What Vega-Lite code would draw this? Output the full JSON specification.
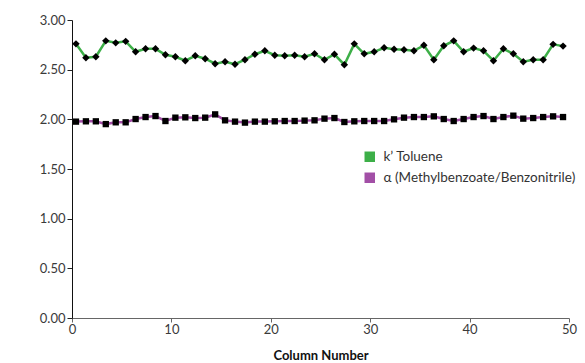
{
  "$schema": "https://vega.github.io/schema/vega-lite/v6.json",
  "width": 497,
  "height": 298,
  "autosize": "none",
  "padding": {"left": 72, "top": 20, "right": 16, "bottom": 45},
  "config": {
    "view": {"stroke": null},
    "font": "Lato",
    "axis": {"grid": false, "labelFont": "Lato", "labelFontSize": 13, "labelColor": "#3a3a3a", "tickColor": "#222", "domainColor": "#111", "labelFlush": false}
  },
  "data": {
    "values": [
      {"column": 0.4, "toluene": 2.76, "alpha": 1.977},
      {"column": 1.4, "toluene": 2.62, "alpha": 1.98},
      {"column": 2.4, "toluene": 2.63, "alpha": 1.98},
      {"column": 3.4, "toluene": 2.79, "alpha": 1.952},
      {"column": 4.4, "toluene": 2.77, "alpha": 1.97},
      {"column": 5.4, "toluene": 2.785, "alpha": 1.97},
      {"column": 6.4, "toluene": 2.68, "alpha": 2.003},
      {"column": 7.4, "toluene": 2.71, "alpha": 2.023},
      {"column": 8.4, "toluene": 2.71, "alpha": 2.033},
      {"column": 9.4, "toluene": 2.65, "alpha": 1.983},
      {"column": 10.4, "toluene": 2.63, "alpha": 2.017},
      {"column": 11.4, "toluene": 2.59, "alpha": 2.02},
      {"column": 12.4, "toluene": 2.64, "alpha": 2.013},
      {"column": 13.4, "toluene": 2.61, "alpha": 2.017},
      {"column": 14.4, "toluene": 2.56, "alpha": 2.05},
      {"column": 15.4, "toluene": 2.58, "alpha": 1.99},
      {"column": 16.4, "toluene": 2.555, "alpha": 1.977},
      {"column": 17.4, "toluene": 2.6, "alpha": 1.967},
      {"column": 18.4, "toluene": 2.655, "alpha": 1.977},
      {"column": 19.4, "toluene": 2.69, "alpha": 1.977},
      {"column": 20.4, "toluene": 2.645, "alpha": 1.98},
      {"column": 21.4, "toluene": 2.64, "alpha": 1.983},
      {"column": 22.4, "toluene": 2.645, "alpha": 1.983},
      {"column": 23.4, "toluene": 2.63, "alpha": 1.987},
      {"column": 24.4, "toluene": 2.66, "alpha": 1.99},
      {"column": 25.4, "toluene": 2.6, "alpha": 2.007},
      {"column": 26.4, "toluene": 2.655, "alpha": 2.013},
      {"column": 27.4, "toluene": 2.55, "alpha": 1.973},
      {"column": 28.4, "toluene": 2.76, "alpha": 1.98},
      {"column": 29.4, "toluene": 2.66, "alpha": 1.983},
      {"column": 30.4, "toluene": 2.68, "alpha": 1.983},
      {"column": 31.4, "toluene": 2.72, "alpha": 1.983},
      {"column": 32.4, "toluene": 2.705, "alpha": 2.0},
      {"column": 33.4, "toluene": 2.7, "alpha": 2.017},
      {"column": 34.4, "toluene": 2.69, "alpha": 2.023},
      {"column": 35.4, "toluene": 2.745, "alpha": 2.023},
      {"column": 36.4, "toluene": 2.6, "alpha": 2.03},
      {"column": 37.4, "toluene": 2.74, "alpha": 2.003},
      {"column": 38.4, "toluene": 2.79, "alpha": 1.983},
      {"column": 39.4, "toluene": 2.68, "alpha": 2.003},
      {"column": 40.4, "toluene": 2.717, "alpha": 2.023},
      {"column": 41.4, "toluene": 2.69, "alpha": 2.033},
      {"column": 42.4, "toluene": 2.59, "alpha": 2.003},
      {"column": 43.4, "toluene": 2.71, "alpha": 2.023},
      {"column": 44.4, "toluene": 2.66, "alpha": 2.037},
      {"column": 45.4, "toluene": 2.58, "alpha": 2.007},
      {"column": 46.4, "toluene": 2.6, "alpha": 2.013},
      {"column": 47.4, "toluene": 2.6, "alpha": 2.023},
      {"column": 48.4, "toluene": 2.755, "alpha": 2.03},
      {"column": 49.4, "toluene": 2.737, "alpha": 2.023}
    ]
  },
  "transform": [{"fold": ["toluene", "alpha"], "as": ["series", "value"]}],
  "encoding": {
    "x": {
      "field": "column", "type": "quantitative",
      "scale": {"domain": [0, 50], "nice": false},
      "axis": {"values": [0, 10, 20, 30, 40, 50], "tickSize": 4, "labelPadding": 1, "domainColor": "#666", "tickColor": "#666",
               "title": "Column Number", "titleFont": "Lato", "titleFontSize": 13, "titleFontWeight": "bold", "titleColor": "#111", "titlePadding": 13}
    },
    "y": {
      "field": "value", "type": "quantitative",
      "scale": {"domain": [0, 3], "nice": false},
      "axis": {"values": [0, 0.5, 1, 1.5, 2, 2.5, 3], "format": ".2f", "tickSize": 5, "labelPadding": 2, "title": null}
    }
  },
  "layer": [
    {
      "mark": {"type": "line", "strokeWidth": 2.5},
      "encoding": {
        "color": {
          "field": "series", "type": "nominal",
          "scale": {"domain": ["toluene", "alpha"], "range": ["#3daf48", "#a24fa6"]},
          "legend": {
            "title": null, "orient": "none", "legendX": 291, "legendY": 130,
            "symbolType": "square", "symbolSize": 110, "symbolStrokeWidth": 0, "labelOffset": 7,
            "labelFont": "Lato", "labelFontSize": 13.5, "labelColor": "#333", "rowPadding": 6, "labelLimit": 0,
            "labelExpr": "datum.value == 'toluene' ? 'k’ Toluene' : 'α (Methylbenzoate/Benzonitrile)'",
            "encode": {"symbols": {"update": {"fill": {"scale": "color", "field": "value"}, "opacity": {"value": 1}}}}
          }
        }
      }
    },
    {
      "transform": [{"filter": "datum.series == 'toluene'"}],
      "mark": {"type": "point", "filled": true, "color": "black", "opacity": 1, "shape": "diamond", "size": 55}
    },
    {
      "transform": [{"filter": "datum.series == 'alpha'"}],
      "mark": {"type": "point", "filled": true, "color": "black", "opacity": 1, "shape": "square", "size": 40}
    }
  ]
}
